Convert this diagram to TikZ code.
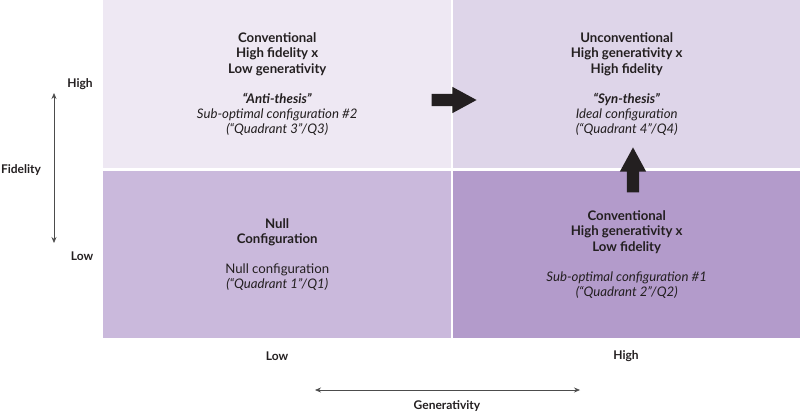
\documentclass[tikz,border=0pt]{standalone}
\usepackage{fontspec}
\setmainfont{Lato}
\usepackage{tikz}
\usetikzlibrary{arrows.meta, shapes.arrows}

\definecolor{quadlight}{HTML}{EEE8F3}
\definecolor{quadideal}{HTML}{DED5E9}
\definecolor{quadnull}{HTML}{CAB9DC}
\definecolor{quaddark}{HTML}{B39BCB}
\definecolor{ink}{HTML}{231F20}

\begin{document}
\begin{tikzpicture}[
  x=1pt, y=-1pt,
  quad/.style={rectangle, anchor=north west, inner sep=0pt, minimum width=348pt, align=center, text=ink, font=\fontsize{13.2}{15.2}\selectfont},
  axislabel/.style={text=ink, font=\bfseries\fontsize{12}{14}\selectfont},
  axis/.style={{Stealth[length=6pt,width=5pt]}-{Stealth[length=6pt,width=5pt]}, draw=black!70, line width=0.7pt},
  blockarrow/.style={single arrow, fill=ink, draw=none, inner sep=6pt, minimum height=45pt, minimum width=26pt, single arrow head extend=7pt, single arrow tip angle=57, anchor=tip}
]
\useasboundingbox (0,0) rectangle (800,415);

% quadrants
\node[quad, fill=quadlight, minimum height=168pt] (q3) at (103,0) {%
  \textbf{Conventional}\\ \textbf{High fidelity x}\\ \textbf{Low generativity}\\[15pt]
  \textbf{\textit{“Anti-thesis”}}\\ \textit{Sub-optimal configuration \#2}\\ \textit{(“Quadrant 3”/Q3)}};
\node[quad, fill=quadideal, minimum height=168pt, minimum width=347pt] (q4) at (453,0) {%
  \textbf{Unconventional}\\ \textbf{High generativity x}\\ \textbf{High fidelity}\\[15pt]
  \textbf{\textit{“Syn-thesis”}}\\ \textit{Ideal configuration}\\ \textit{(“Quadrant 4”/Q4)}};
\node[quad, fill=quadnull, minimum height=167pt] (q1) at (103,171) {%
  \textbf{Null}\\ \textbf{Configuration}\\[15pt]
  Null configuration\\ \textit{(“Quadrant 1”/Q1)}};
\node[quad, fill=quaddark, minimum height=167pt, minimum width=347pt] (q2) at (453,171) {%
  \textbf{Conventional}\\ \textbf{High generativity x}\\ \textbf{Low fidelity}\\[15pt]
  \textit{Sub-optimal configuration \#1}\\ \textit{(“Quadrant 2”/Q2)}};

% moves between quadrants
\node[blockarrow] (toideal) at (477,100) {};
\node[blockarrow, rotate=90] (upideal) at (633,147) {};

% fidelity axis
\node[axislabel] (fidhigh) at (80,84) {High};
\node[axislabel] (fidlow) at (82,256) {Low};
\node[axislabel] (fidelity) at (21,170) {Fidelity};
\coordinate (fidtop) at (54,93);
\coordinate (fidbottom) at (54,243);
\draw[axis] (fidtop) -- (fidbottom);

% generativity axis
\node[axislabel] (genlow) at (277,356) {Low};
\node[axislabel] (genhigh) at (626,356) {High};
\node[axislabel] (generativity) at (447,406) {Generativity};
\coordinate (genleft) at (315,390);
\coordinate (genright) at (580,390);
\draw[axis] (genleft) -- (genright);

\end{tikzpicture}
\end{document}
